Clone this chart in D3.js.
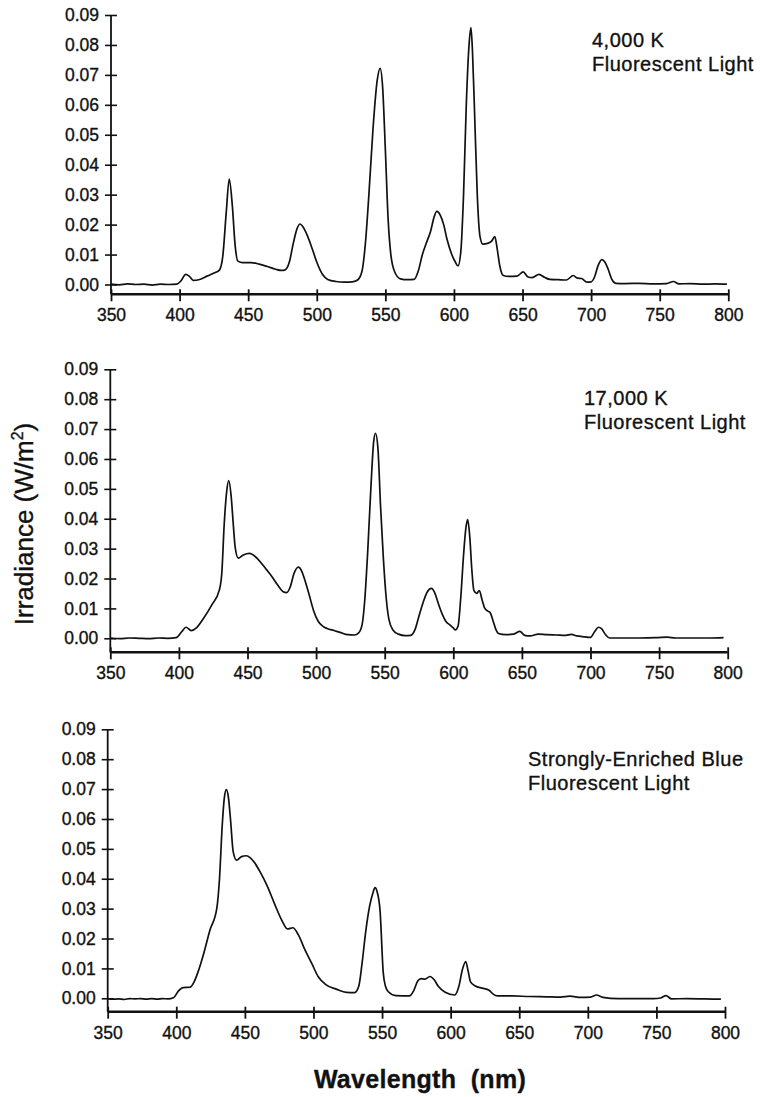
<!DOCTYPE html>
<html>
<head>
<meta charset="utf-8">
<script src="https://cdn.jsdelivr.net/npm/d3@7"></script>
<style>
  body { margin: 0; background: #fff; }
  text { font-family: "Liberation Sans", Arial, sans-serif; fill: #111; stroke: #111; stroke-width: 0.35px; }
</style>
</head>
<body>
<svg id="chart" width="762" height="1097"></svg>
<script>
// Axis ticks
const wavelengthTicks = [350, 400, 450, 500, 550, 600, 650, 700, 750, 800];
const irradianceTicks = [0, 0.01, 0.02, 0.03, 0.04, 0.05, 0.06, 0.07, 0.08, 0.09];

// Spectra, [wavelength nm, irradiance W/m2]
const spec4000 = [[350,0.0001],[356,-0.0001],[362,0.0002],[368,0],[374,0.0001],[380,-0.0002],[386,0.0001],[392,0],[398,0.0001],
  [401,0.0012],[404.5,0.0034],[407,0.0028],[410,0.0014],[414,0.0016],[420,0.0028],[426,0.0040],[429,0.0048],[431.5,0.0095],
  [434,0.024],[436.2,0.0352],[438.5,0.026],[440.5,0.013],[442.5,0.0078],[446,0.0073],[452,0.0073],[458,0.0068],[464,0.0060],
  [470,0.0051],[474,0.0047],[477,0.0049],[480,0.0075],[483,0.0140],[485.5,0.0185],[487.8,0.0202],[490,0.0192],[493,0.0165],
  [497,0.0115],[500,0.0075],[504,0.0035],[508,0.0017],[514,0.0010],[520,0.0008],[526,0.0009],[530,0.0016],[533,0.0045],
  [535.5,0.0140],[538,0.0300],[541,0.0520],[544,0.0680],[546.2,0.0722],[548,0.0660],[550,0.0450],[552,0.0220],[554,0.0100],
  [557,0.0040],[561,0.0019],[566,0.0016],[571,0.0017],[574,0.0045],[577,0.0100],[580,0.0140],[583,0.0178],[585.5,0.0225],
  [587.5,0.0244],[590,0.0232],[592.5,0.0200],[595,0.0150],[598,0.0105],[601,0.0075],[603,0.0062],[605,0.0110],[607,0.0300],
  [609,0.0600],[611,0.0800],[612.4,0.0858],[613.5,0.0780],[615,0.0580],[617,0.0300],[619,0.0160],[621,0.0135],[625,0.0138],
  [627.5,0.0145],[629.8,0.0160],[631.5,0.0120],[633.5,0.0060],[636,0.0030],[640,0.0027],[646,0.0028],[650.5,0.0042],
  [654,0.0025],[657,0.0023],[662,0.0034],[666,0.0024],[670,0.0017],[676,0.0016],[682,0.0015],[687,0.0030],[690,0.0021],
  [693,0.0020],[697,0.0008],[700,0.0009],[702.5,0.0025],[705,0.0062],[707.8,0.0083],[710,0.0075],[712.5,0.0050],[715,0.0018],
  [718,0.0004],[725,0.0003],[735,0.0004],[745,0.0002],[755,0.0003],[760,0.0010],[764,0.0002],[772,0.0003],[782,0.0001],
  [790,0.0002],[799,0.0001]];

const spec17000 = [[350,0.0001],[357,-0.0001],[364,0.0001],[371,0],[378,-0.0001],[385,0.0001],[392,0],[398,0.0002],
  [402,0.0022],[405.2,0.0037],[409,0.0026],[413,0.0036],[418,0.0067],[424,0.0112],[429.5,0.0162],[431.3,0.0220],[433,0.0380],
  [434.8,0.0490],[436.3,0.0528],[438,0.0480],[439.5,0.0390],[441,0.0305],[443.3,0.0268],[447,0.0279],[451.5,0.0284],
  [456,0.0272],[460,0.0252],[464,0.0229],[468,0.0205],[472,0.0178],[476,0.0156],[478.5,0.0153],[481,0.0170],[484,0.0218],
  [487,0.0238],[489.5,0.0225],[492,0.0192],[495,0.0145],[498,0.0095],[501.5,0.0057],[505,0.0040],[508,0.0033],[513,0.0026],
  [518,0.0019],[523,0.0012],[528,0.0011],[531,0.0018],[533.5,0.0045],[535.5,0.0130],[537.5,0.0280],[540,0.0510],[542,0.0660],
  [543.3,0.0686],[545,0.0640],[547,0.0440],[549,0.0270],[551,0.0140],[553,0.0065],[556,0.0028],[560,0.0014],[565,0.0009],
  [569,0.0010],[572,0.0028],[575,0.0075],[578,0.0120],[581,0.0155],[584,0.0167],[586.5,0.0152],[589,0.0117],[592,0.0080],
  [594.5,0.0057],[597.5,0.0045],[600,0.0035],[601.5,0.0028],[603.5,0.0042],[605.5,0.0140],[607.5,0.0280],[609.2,0.0370],
  [610.5,0.0397],[612,0.0340],[613.5,0.0230],[615,0.0160],[617,0.0150],[619,0.0160],[621,0.0128],[623,0.0100],[625.5,0.0090],
  [627,0.0085],[629,0.0058],[631,0.0030],[633,0.0016],[638,0.0012],[644,0.0014],[648.5,0.0023],[652,0.0010],[656,0.0008],
  [662,0.0014],[668,0.0012],[675,0.0011],[682,0.0010],[686,0.0013],[690,0.0008],[696,0.0005],[700,0.0003],[703,0.0022],
  [705.8,0.0037],[708,0.0032],[711,0.0012],[714,0.0001],[722,0.0001],[735,0.0001],[748,0.0002],[756,0.0004],[762,0.0001],
  [775,0.0001],[787,0.0001],[797,0.0002]];

const specBlue = [[350,-0.0001],[354,-0.0003],[358,-0.0002],[362,-0.0004],[366,-0.0001],[370,-0.0002],[374,-0.0001],
  [378,-0.0003],[382,-0.0001],[386,-0.0003],[390,-0.0001],[394,-0.0002],[398,0.0002],[401.5,0.0024],[405,0.0036],[410,0.0037],
  [413,0.0055],[416,0.0090],[420,0.0150],[424.5,0.0228],[429.5,0.0300],[431.5,0.0400],[433.5,0.0580],[435,0.0670],
  [436.5,0.0698],[438,0.0672],[439.5,0.0600],[441.5,0.0490],[444,0.0462],[447.5,0.0474],[451,0.0477],[454,0.0470],
  [457,0.0454],[461,0.0424],[466,0.0379],[472,0.0312],[477,0.0260],[481,0.0232],[485,0.0236],[489,0.0212],[494,0.0160],
  [499,0.0114],[503.5,0.0072],[509,0.0046],[517,0.0030],[524,0.0020],[530,0.0019],[533,0.0040],[535.5,0.0120],[538,0.0220],
  [541,0.0310],[543.5,0.0355],[544.9,0.0370],[546.5,0.0355],[548.5,0.0296],[550.9,0.0084],[552.5,0.0040],[554.6,0.0022],
  [560,0.0009],[570,0.0008],[573,0.0025],[576,0.0058],[578.5,0.0066],[581,0.0064],[585,0.0073],[588,0.0062],[591,0.0040],
  [596,0.0020],[603,0.0011],[606,0.0040],[608.5,0.0095],[611,0.0123],[612.8,0.0090],[614.5,0.0055],[618,0.0041],[623,0.0034],
  [628,0.0027],[631,0.0014],[634,0.0008],[645,0.0008],[657,0.0006],[670,0.0005],[680,0.0004],[687,0.0007],[695,0.0003],
  [702,0.0004],[706.4,0.0011],[711,0.0003],[722,-0.0001],[735,-0.0001],[748,-0.0001],[753,0.0001],[757,0.0009],[761,-0.0002],
  [772,-0.0001],[785,-0.0002],[797,-0.0003]];

const panelLabels = [
  ["4,000 K", "Fluorescent Light"],
  ["17,000 K", "Fluorescent Light"],
  ["Strongly-Enriched Blue", "Fluorescent Light"]
];
const spectra = [spec4000, spec17000, specBlue];

// Layout of the three stacked panels
const layout = [
  {top: 15,    zero: 284.5, axisY: 294.3,  left: 111,   right: 728.3, labelX: 592, labelY: 47},
  {top: 369.3, zero: 638.3, axisY: 652.3,  left: 110.3, right: 727.7, labelX: 584, labelY: 405},
  {top: 729.3, zero: 998.3, axisY: 1011.7, left: 107.7, right: 725,   labelX: 528, labelY: 766}
];

const svg = d3.select("#chart");

layout.forEach((p, i) => {
  const x = d3.scaleLinear().domain([350, 800]).range([p.left, p.right]);
  const y = d3.scaleLinear().domain([0, 0.09]).range([p.zero, p.top]);

  const g = svg.append("g").attr("class", "panel");

  // y axis
  const yAxis = g.append("g")
      .attr("transform", `translate(${p.left},0)`)
      .call(d3.axisLeft(y).tickValues(irradianceTicks).tickFormat(d3.format(".2f")).tickSize(6));
  yAxis.select(".domain").remove();
  yAxis.selectAll(".tick line").attr("x1", -6).attr("x2", 6).attr("stroke", "#111").attr("stroke-width", 1.6);
  yAxis.selectAll(".tick text").attr("x", -12).style("font-size", "17.5px").style("font-family", "Liberation Sans, Arial, sans-serif");
  g.append("line")
      .attr("x1", p.left).attr("x2", p.left)
      .attr("y1", p.top).attr("y2", p.axisY)
      .attr("stroke", "#111").attr("stroke-width", 1.8);

  // x axis
  const xAxis = g.append("g")
      .attr("transform", `translate(0,${p.axisY})`)
      .call(d3.axisBottom(x).tickValues(wavelengthTicks).tickFormat(d3.format("d")).tickSize(7));
  xAxis.select(".domain").remove();
  xAxis.selectAll(".tick line").attr("y1", -5).attr("y2", 7).attr("stroke", "#111").attr("stroke-width", 1.8);
  xAxis.selectAll(".tick text").attr("y", 21).attr("dy", "0.35em")
      .style("font-size", "17.5px").style("font-family", "Liberation Sans, Arial, sans-serif");
  g.append("line")
      .attr("x1", p.left).attr("x2", p.right)
      .attr("y1", p.axisY).attr("y2", p.axisY)
      .attr("stroke", "#111").attr("stroke-width", 2.4);

  // spectrum
  const line = d3.line()
      .x(d => x(d[0]))
      .y(d => y(d[1]))
      .curve(d3.curveMonotoneX);
  g.append("path")
      .datum(spectra[i])
      .attr("d", line)
      .attr("fill", "none")
      .attr("stroke", "#111")
      .attr("stroke-width", 1.7)
      .attr("stroke-linejoin", "round");

  // label
  const lab = g.append("text")
      .attr("x", p.labelX).attr("y", p.labelY)
      .style("font-size", "20px").style("letter-spacing", "0.5px");
  panelLabels[i].forEach((t, k) => {
    lab.append("tspan").attr("x", p.labelX).attr("dy", k === 0 ? 0 : 24).text(t);
  });
});

// y axis title
const yTitle = svg.append("text")
    .attr("transform", "translate(33,524) rotate(-90)")
    .attr("text-anchor", "middle")
    .style("font-size", "26px");
yTitle.append("tspan").text("Irradiance (W/m");
yTitle.append("tspan").attr("dy", -10).style("font-size", "16px").text("2");
yTitle.append("tspan").attr("dy", 10).text(")");

// x axis title
svg.append("text")
    .attr("x", 420).attr("y", 1088)
    .attr("text-anchor", "middle")
    .style("font-size", "25px").style("font-weight", "bold")
    .style("letter-spacing", "0.3px")
    .style("white-space", "pre")
    .text("Wavelength  (nm)");
</script>
</body>
</html>
